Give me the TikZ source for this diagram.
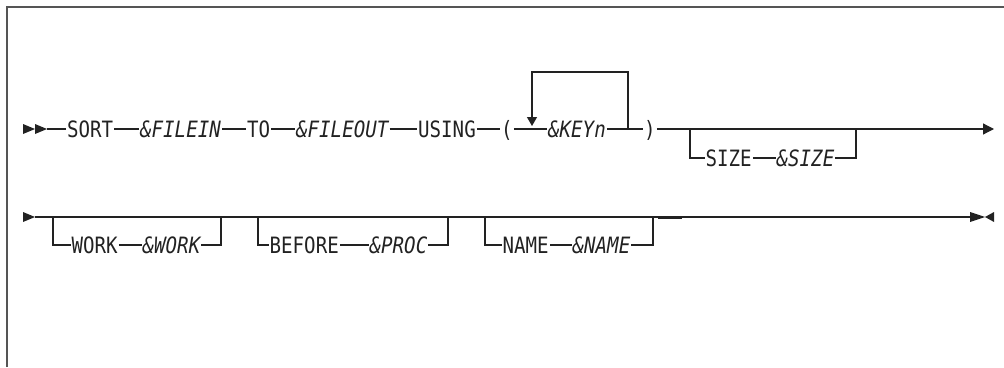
\documentclass[tikz,border=0pt]{standalone}
\usepackage{fontspec}
\setmonofont{DejaVu Sans Mono}[FakeStretch=0.85]
\usetikzlibrary{arrows.meta}
\definecolor{ink}{HTML}{222222}
\definecolor{rule}{HTML}{555555}
\begin{document}
\begin{tikzpicture}[x=1pt, y=-1pt, color=ink, line width=1.2pt,
	kw/.style={inner sep=1.2pt, outer sep=0pt, anchor=west, text height=16.5pt, text depth=0pt, font=\ttfamily\fontsize{22.5}{26}\selectfont},
	var/.style={kw, font=\ttfamily\itshape\fontsize{22.5}{26}\selectfont},
	tip/.style={-{Triangle[width=11pt, length=11pt]}}]
	\useasboundingbox (0,0) rectangle (1004,367);
	\draw[rule, line width=2pt] (7,367) -- (7,7) -- (1004,7);

	\fill (23,124) -- (35,129) -- (23,134) -- cycle;
	\fill (35,124) -- (47,129) -- (35,134) -- cycle;
	\coordinate (go) at (47,129);
	\node[kw] (sort) at (66,129) {SORT};
	\node[var] (filein) at (139,129) {\&FILEIN};
	\node[kw] (to) at (246,129) {TO};
	\node[var] (fileout) at (295,129) {\&FILEOUT};
	\node[kw] (using) at (417,129) {USING};
	\node[kw] (lp) at (500,129) {(};
	\node[var] (key) at (547,129) {\&KEYn};
	\node[kw] (rp) at (643,129) {)};
	\coordinate (loopin) at (532,129);
	\coordinate (loopout) at (628,129);
	\coordinate (looptop) at (532,72);
	\coordinate (stop) at (994,129);

	\draw (go) -- (sort);
	\draw (sort) -- (filein);
	\draw (filein) -- (to);
	\draw (to) -- (fileout);
	\draw (fileout) -- (using);
	\draw (using) -- (lp);
	\draw (lp) -- (key);
	\draw (key) -- (rp);
	\draw[-{Triangle[width=10pt, length=9pt]}, shorten >=3pt] (loopout) |- (looptop) -- (loopin);
	\draw[tip] (rp) -- (stop);

	\coordinate (sizein) at (690,129);
	\coordinate (sizeout) at (856,129);
	\node[kw] (size) at (704.5,158) {SIZE};
	\node[var] (sizev) at (775.5,158) {\&SIZE};
	\draw (sizein) |- (size.west);
	\draw (size) -- (sizev);
	\draw (sizev.east) -| (sizeout);

	\fill (23,212) -- (35,217) -- (23,222) -- cycle;
	\coordinate (go2) at (35,217);
	\coordinate (stop2) at (970,217);
	\draw (go2) -- (stop2);

	\coordinate (workin) at (53,217);
	\coordinate (workout) at (221,217);
	\node[kw] (work) at (70.5,245) {WORK};
	\node[var] (workv) at (141.5,245) {\&WORK};
	\draw (workin) |- (work.west);
	\draw (work) -- (workv);
	\draw (workv.east) -| (workout);

	\coordinate (beforein) at (258,217);
	\coordinate (beforeout) at (448,217);
	\node[kw] (before) at (268.5,245) {BEFORE};
	\node[var] (proc) at (368.5,245) {\&PROC};
	\draw (beforein) |- (before.west);
	\draw (before) -- (proc);
	\draw (proc.east) -| (beforeout);

	\coordinate (namein) at (485,217);
	\coordinate (nameout) at (653,217);
	\node[kw] (name) at (501.5,245) {NAME};
	\node[var] (namev) at (571.5,245) {\&NAME};
	\draw (namein) |- (name.west);
	\draw (name) -- (namev);
	\draw (namev.east) -| (nameout);
	\draw[line width=2pt] (658,218) -- (682,218);

	\fill (970,212) -- (985,217) -- (970,222) -- cycle;
	\fill (994,212) -- (985,217) -- (994,222) -- cycle;
\end{tikzpicture}
\end{document}
